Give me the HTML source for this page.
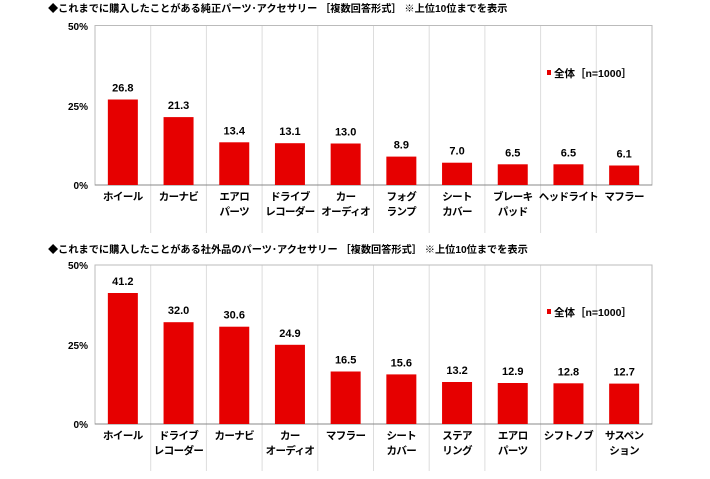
<!DOCTYPE html>
<html><head><meta charset="utf-8"><style>
body{margin:0;background:#fff;}
svg text{font-family:"Liberation Sans","Noto Sans CJK JP",sans-serif;font-weight:bold;fill:#000;}
.cat text{letter-spacing:-0.6px;}
</style></head><body>
<svg width="710" height="474" xmlns="http://www.w3.org/2000/svg">
<text x="48" y="12" font-size="10.2">◆これまでに購入したことがある純正パーツ･アクセサリー ［複数回答形式］ ※上位10位までを表示</text>
<text x="48" y="253" font-size="10.2">◆これまでに購入したことがある社外品のパーツ･アクセサリー ［複数回答形式］ ※上位10位までを表示</text>

<g stroke="#ddd" stroke-width="1">
<line x1="150.7" y1="25.5" x2="150.7" y2="233"/><line x1="206.4" y1="25.5" x2="206.4" y2="233"/><line x1="262.1" y1="25.5" x2="262.1" y2="233"/><line x1="317.8" y1="25.5" x2="317.8" y2="233"/><line x1="373.5" y1="25.5" x2="373.5" y2="233"/><line x1="429.2" y1="25.5" x2="429.2" y2="233"/><line x1="484.9" y1="25.5" x2="484.9" y2="233"/><line x1="540.6" y1="25.5" x2="540.6" y2="233"/><line x1="596.3" y1="25.5" x2="596.3" y2="233"/>
<line x1="150.7" y1="265" x2="150.7" y2="471"/><line x1="206.4" y1="265" x2="206.4" y2="471"/><line x1="262.1" y1="265" x2="262.1" y2="471"/><line x1="317.8" y1="265" x2="317.8" y2="471"/><line x1="373.5" y1="265" x2="373.5" y2="471"/><line x1="429.2" y1="265" x2="429.2" y2="471"/><line x1="484.9" y1="265" x2="484.9" y2="471"/><line x1="540.6" y1="265" x2="540.6" y2="471"/><line x1="596.3" y1="265" x2="596.3" y2="471"/>
</g>
<rect x="95" y="25.5" width="557" height="159.5" fill="none" stroke="#bbb"/>
<rect x="95" y="265" width="557" height="159" fill="none" stroke="#bbb"/>
<line x1="95" y1="185" x2="652" y2="185" stroke="#888"/>
<line x1="95" y1="424" x2="652" y2="424" stroke="#888"/>

<g font-size="10" text-anchor="end">
<text x="88" y="30">50%</text><text x="88" y="110">25%</text><text x="88" y="189">0%</text>
<text x="88" y="269">50%</text><text x="88" y="349">25%</text><text x="88" y="428">0%</text>
</g>

<g fill="#e60000">
<rect x="107.85" y="99.5" width="30" height="85.5"/><rect x="163.55" y="117.1" width="30" height="67.9"/><rect x="219.25" y="142.3" width="30" height="42.7"/><rect x="274.95" y="143.2" width="30" height="41.8"/><rect x="330.65" y="143.5" width="30" height="41.5"/><rect x="386.35" y="156.6" width="30" height="28.4"/><rect x="442.05" y="162.7" width="30" height="22.3"/><rect x="497.75" y="164.3" width="30" height="20.7"/><rect x="553.45" y="164.3" width="30" height="20.7"/><rect x="609.15" y="165.5" width="30" height="19.5"/>
<rect x="107.85" y="293" width="30" height="131"/><rect x="163.55" y="322.2" width="30" height="101.8"/><rect x="219.25" y="326.7" width="30" height="97.3"/><rect x="274.95" y="344.8" width="30" height="79.2"/><rect x="330.65" y="371.5" width="30" height="52.5"/><rect x="386.35" y="374.4" width="30" height="49.6"/><rect x="442.05" y="382" width="30" height="42"/><rect x="497.75" y="383" width="30" height="41"/><rect x="553.45" y="383.3" width="30" height="40.7"/><rect x="609.15" y="383.6" width="30" height="40.4"/>
<rect x="547" y="70" width="4" height="5"/><rect x="547" y="309" width="4" height="5"/>
</g>
<text x="554" y="77" font-size="10.5">全体［n=1000］</text>
<text x="554" y="316" font-size="10.5">全体［n=1000］</text>

<g font-size="11" text-anchor="middle">
<text x="122.85" y="91.5">26.8</text><text x="178.55" y="109.1">21.3</text><text x="234.25" y="134.3">13.4</text><text x="289.95" y="135.2">13.1</text><text x="345.65" y="135.5">13.0</text><text x="401.35" y="148.6">8.9</text><text x="457.05" y="154.7">7.0</text><text x="512.75" y="156.3">6.5</text><text x="568.45" y="156.3">6.5</text><text x="624.15" y="157.5">6.1</text>
<text x="122.85" y="285">41.2</text><text x="178.55" y="314.2">32.0</text><text x="234.25" y="318.7">30.6</text><text x="289.95" y="336.8">24.9</text><text x="345.65" y="363.5">16.5</text><text x="401.35" y="366.4">15.6</text><text x="457.05" y="374">13.2</text><text x="512.75" y="375">12.9</text><text x="568.45" y="375.3">12.8</text><text x="624.15" y="375.6">12.7</text>
</g>

<g class="cat" font-size="10.5" text-anchor="middle">
<text x="122.85" y="200">ホイール</text><text x="178.55" y="200">カーナビ</text><text x="234.25" y="200">エアロ</text><text x="234.25" y="215">パーツ</text><text x="289.95" y="200">ドライブ</text><text x="289.95" y="215">レコーダー</text><text x="345.65" y="200">カー</text><text x="345.65" y="215">オーディオ</text><text x="401.35" y="200">フォグ</text><text x="401.35" y="215">ランプ</text><text x="457.05" y="200">シート</text><text x="457.05" y="215">カバー</text><text x="512.75" y="200">ブレーキ</text><text x="512.75" y="215">パッド</text><text x="568.45" y="200">ヘッドライト</text><text x="624.15" y="200">マフラー</text>
<text x="122.85" y="439">ホイール</text><text x="178.55" y="439">ドライブ</text><text x="178.55" y="454">レコーダー</text><text x="234.25" y="439">カーナビ</text><text x="289.95" y="439">カー</text><text x="289.95" y="454">オーディオ</text><text x="345.65" y="439">マフラー</text><text x="401.35" y="439">シート</text><text x="401.35" y="454">カバー</text><text x="457.05" y="439">ステア</text><text x="457.05" y="454">リング</text><text x="512.75" y="439">エアロ</text><text x="512.75" y="454">パーツ</text><text x="568.45" y="439">シフトノブ</text><text x="624.15" y="439">サスペン</text><text x="624.15" y="454">ション</text>
</g>
</svg>
</body></html>
